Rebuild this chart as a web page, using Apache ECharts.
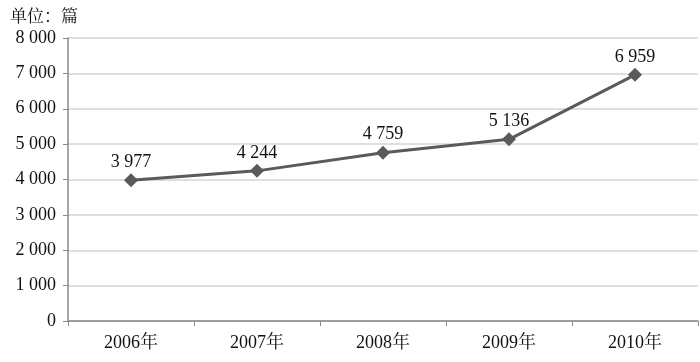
<!DOCTYPE html>
<html><head><meta charset="utf-8">
<script src="https://cdn.jsdelivr.net/npm/echarts@6/dist/echarts.min.js"></script>
<style>html,body{margin:0;padding:0;background:#fff}#c{width:700px;height:362px}</style>
</head><body><div id="c"></div>
<script>
const categories = ['2006年','2007年','2008年','2009年','2010年'];
const values = [3977, 4244, 4759, 5136, 6959];
const unitLabel = '单位：篇';
const fmt = v => { const s = String(v); return s.length > 3 ? s.slice(0, s.length-3) + ' ' + s.slice(-3) : s; };
const font = '"Liberation Serif", "Noto Serif CJK SC", "Noto Sans CJK SC", serif';
const chart = echarts.init(document.getElementById('c'));
chart.setOption({
  animation: false,
  grid: { left: 68, right: 2, top: 38, bottom: 41 },
  title: { text: unitLabel, left: 5, top: 4, textStyle: { fontFamily: font, fontSize: 17, fontWeight: 'normal', color: '#111' } },
  xAxis: {
    type: 'category', data: categories, boundaryGap: true,
    axisLine: { lineStyle: { color: '#888', width: 1.5 } },
    axisTick: { show: true, length: 5, lineStyle: { color: '#888' } },
    axisLabel: { fontFamily: font, fontSize: 18, color: '#111', margin: 13 }
  },
  yAxis: {
    type: 'value', min: 0, max: 8000, interval: 1000,
    axisLine: { show: true, lineStyle: { color: '#888', width: 1.5 } },
    axisTick: { show: true, length: 5, lineStyle: { color: '#888' } },
    splitLine: { lineStyle: { color: '#d4d4d4', width: 1.5 } },
    axisLabel: { fontFamily: font, fontSize: 18, color: '#111', margin: 12, formatter: fmt }
  },
  series: [{
    type: 'line', data: values,
    lineStyle: { color: '#5a5a5a', width: 3 },
    itemStyle: { color: '#5a5a5a' },
    symbol: 'diamond', symbolSize: 14,
    label: { show: true, position: 'top', distance: 2, fontFamily: font, fontSize: 18, color: '#111', formatter: p => fmt(p.value) }
  }]
});
</script></body></html>
